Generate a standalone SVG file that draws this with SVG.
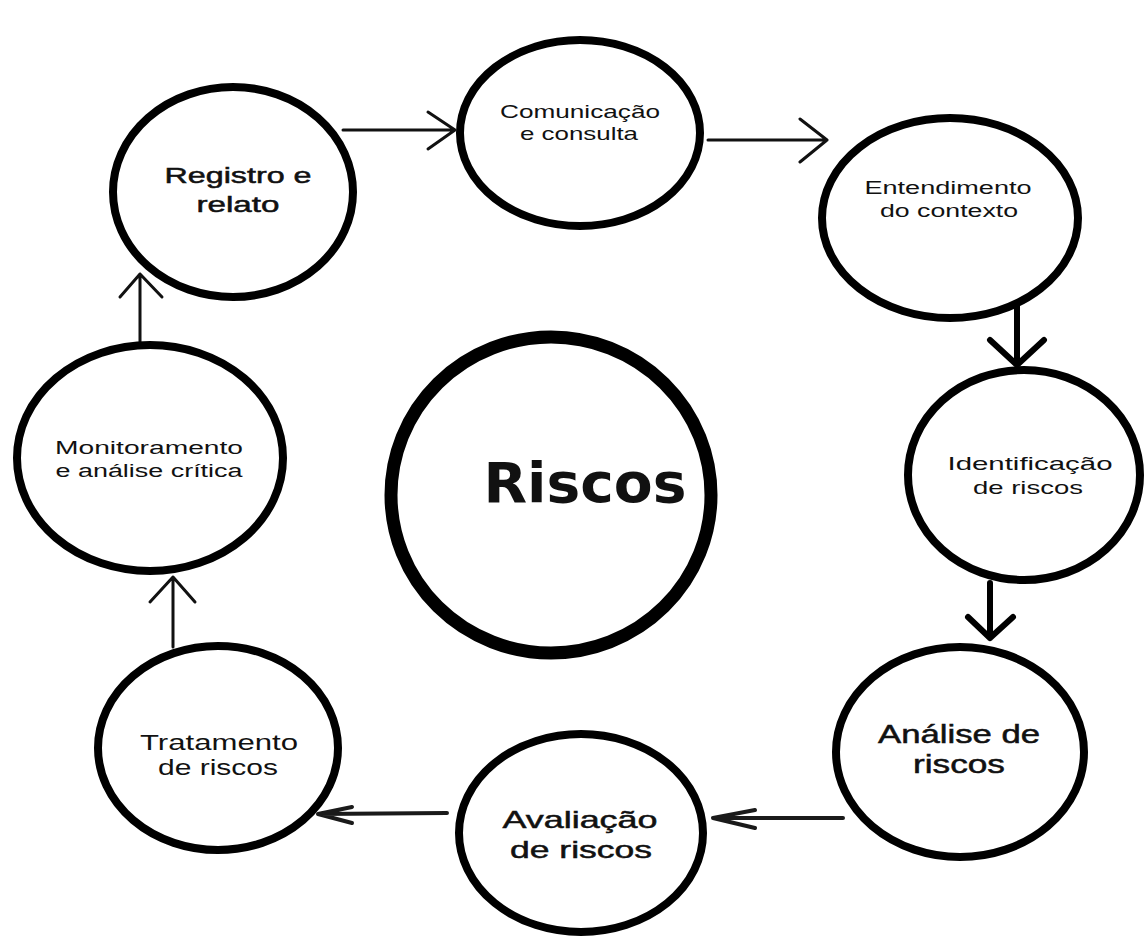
<svg xmlns="http://www.w3.org/2000/svg" width="1145" height="938" viewBox="0 0 1145 938">
<style>
.node{fill:#fff;stroke:#000;stroke-width:8}
.center{fill:#fff;stroke:#000;stroke-width:13}
.lbl{font-family:"Liberation Sans",Arial,sans-serif;fill:#111;text-anchor:middle}
.med{stroke:#111;stroke-width:0.5}
.big{font-family:"DejaVu Sans","Liberation Sans",sans-serif;font-weight:bold;fill:#111;text-anchor:middle}
.thin{fill:none;stroke:#111;stroke-width:3;stroke-linecap:round;stroke-linejoin:round}
.thick{fill:none;stroke:#000;stroke-width:6;stroke-linecap:round;stroke-linejoin:round}
.mid{fill:none;stroke:#1a1a1a;stroke-width:4;stroke-linecap:round;stroke-linejoin:round}
</style>
<rect width="1145" height="938" fill="#fff"/>
<g id="connectors">
<path class="thin" d="M343 130H455M428 112L455 130L428 149"/>
<path class="thin" d="M708 140H827M800 119L827 140L800 162"/>
<path class="thick" d="M1017 297V365M990 340L1017 365L1044 340"/>
<path class="thick" d="M990 583V638M968 617L990 638L1013 617"/>
<path class="mid" d="M843 818H713M755 810L713 818L755 828"/>
<path class="mid" d="M447 813L318 814M352 807L318 814L352 823"/>
<path class="thin" d="M173 647V577M150 602L173 577L195 602"/>
<path class="thin" d="M140 342V274M120 297L140 274L162 297"/>
</g>
<g id="registro">
<ellipse class="node" cx="233" cy="192" rx="120" ry="105"/>
<text class="lbl med" x="238" y="183" font-size="22" textLength="147" lengthAdjust="spacingAndGlyphs">Registro e</text>
<text class="lbl med" x="238" y="212" font-size="22" textLength="83" lengthAdjust="spacingAndGlyphs">relato</text>
</g>
<g id="comunicacao">
<ellipse class="node" cx="580" cy="133" rx="120" ry="93"/>
<text class="lbl" x="580" y="118" font-size="19" textLength="160" lengthAdjust="spacingAndGlyphs">Comunicação</text>
<text class="lbl" x="579" y="140" font-size="19" textLength="118" lengthAdjust="spacingAndGlyphs">e consulta</text>
</g>
<g id="entendimento">
<ellipse class="node" cx="950" cy="218" rx="128" ry="100"/>
<text class="lbl" x="948" y="194" font-size="18" textLength="167" lengthAdjust="spacingAndGlyphs">Entendimento</text>
<text class="lbl" x="949" y="217" font-size="18" textLength="138" lengthAdjust="spacingAndGlyphs">do contexto</text>
</g>
<g id="identificacao">
<ellipse class="node" cx="1024" cy="475" rx="116" ry="105"/>
<text class="lbl" x="1030" y="470" font-size="19" textLength="165" lengthAdjust="spacingAndGlyphs">Identificação</text>
<text class="lbl" x="1028" y="494" font-size="19" textLength="110" lengthAdjust="spacingAndGlyphs">de riscos</text>
</g>
<g id="analise">
<ellipse class="node" cx="960" cy="752" rx="124" ry="105"/>
<text class="lbl med" x="959" y="743" font-size="25" textLength="162" lengthAdjust="spacingAndGlyphs">Análise de</text>
<text class="lbl med" x="959" y="773" font-size="25" textLength="92" lengthAdjust="spacingAndGlyphs">riscos</text>
</g>
<g id="avaliacao">
<ellipse class="node" cx="581" cy="833" rx="122" ry="99"/>
<text class="lbl med" x="580" y="828" font-size="24" textLength="155" lengthAdjust="spacingAndGlyphs">Avaliação</text>
<text class="lbl med" x="581" y="858" font-size="24" textLength="142" lengthAdjust="spacingAndGlyphs">de riscos</text>
</g>
<g id="tratamento">
<ellipse class="node" cx="218" cy="748" rx="120" ry="102"/>
<text class="lbl" x="219" y="750" font-size="22" textLength="158" lengthAdjust="spacingAndGlyphs">Tratamento</text>
<text class="lbl" x="218" y="775" font-size="22" textLength="120" lengthAdjust="spacingAndGlyphs">de riscos</text>
</g>
<g id="monitoramento">
<ellipse class="node" cx="150" cy="458" rx="133" ry="113"/>
<text class="lbl" x="149" y="454" font-size="18" textLength="188" lengthAdjust="spacingAndGlyphs">Monitoramento</text>
<text class="lbl" x="149" y="477" font-size="18" textLength="187" lengthAdjust="spacingAndGlyphs">e análise crítica</text>
</g>
<g id="riscos">
<ellipse class="center" cx="551" cy="495" rx="160" ry="158"/>
<text class="big" x="585" y="502" font-size="56" textLength="203" lengthAdjust="spacingAndGlyphs">Riscos</text>
</g>
</svg>
